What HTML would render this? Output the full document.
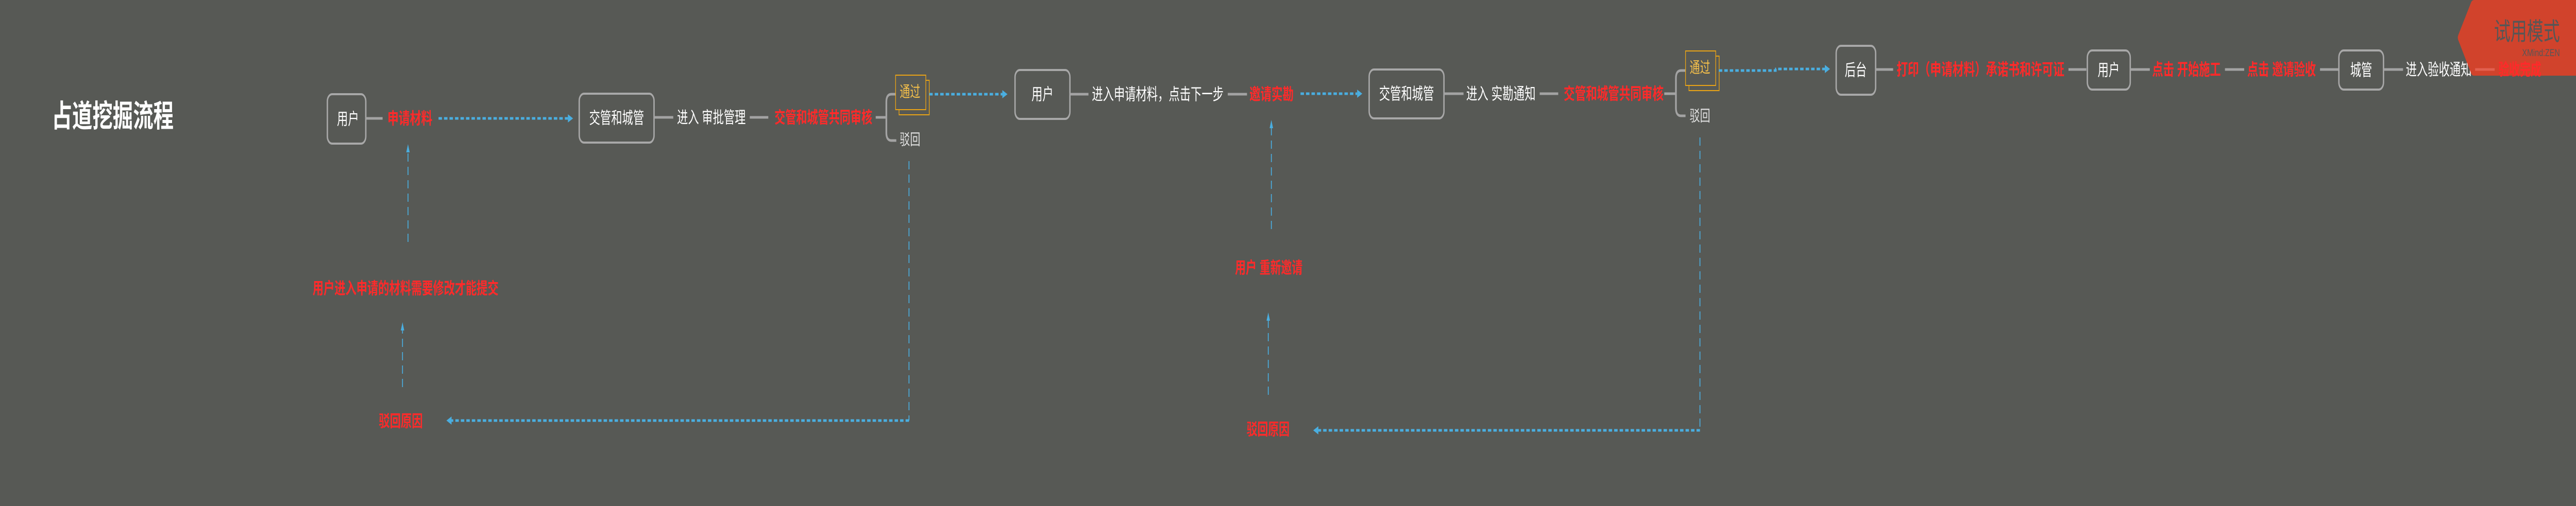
<!DOCTYPE html>
<html><head><meta charset="utf-8"><style>
html,body{margin:0;padding:0;background:#575955;width:100%;height:100%;overflow:hidden;}
svg{display:block;width:100vw;height:100vh;}
text{font-family:"Liberation Sans","Noto Sans CJK SC",sans-serif;dominant-baseline:central;}
.w{fill:#ffffff;font-size:32px;}
.r{fill:#ff2a2a;font-size:32px;font-weight:bold;}
.g{stroke:#a3a3a3;stroke-width:5;fill:none;}
.box{fill:none;stroke:#a8a8a8;stroke-width:4;}
.bd{stroke:#4aaee0;stroke-width:5;stroke-dasharray:10 6;fill:none;}
.bt{stroke:#4aaee0;stroke-width:2.5;stroke-dasharray:16 10;fill:none;}
.ah{fill:#4aaee0;}
.ob{fill:none;stroke:#e8a317;stroke-width:2;}
.ot{fill:#f5c04a;font-size:30px;}
.rj{fill:#e0e0e0;font-size:30px;}
</style></head><body>
<svg viewBox="0 0 7507 983" preserveAspectRatio="none" xmlns="http://www.w3.org/2000/svg">
<rect width="7507" height="983" fill="#575955"/>
<text x="151" y="226" fill="#fff" font-size="60" font-weight="bold" textLength="355" lengthAdjust="spacingAndGlyphs">占道挖掘流程</text>

<!-- row 1 -->
<rect class="box" x="954" y="183" width="112" height="96" rx="14"/>
<text class="w" x="982" y="231">用户</text>
<line class="g" x1="1066" y1="230" x2="1115" y2="230"/>
<text class="r" x="1129" y="230" textLength="131" lengthAdjust="spacingAndGlyphs">申请材料</text>
<line class="bd" x1="1278" y1="230" x2="1655" y2="230"/>
<polygon class="ah" points="1655,222 1670,230 1655,238"/>
<rect class="box" x="1688" y="182" width="218" height="95" rx="14"/>
<text class="w" x="1717" y="229" textLength="160" lengthAdjust="spacingAndGlyphs">交管和城管</text>
<line class="g" x1="1906" y1="228" x2="1962" y2="228"/>
<text class="w" x="1973" y="228" textLength="200" lengthAdjust="spacingAndGlyphs">进入 审批管理</text>
<line class="g" x1="2185" y1="228" x2="2239" y2="228"/>
<text class="r" x="2257" y="228" textLength="285" lengthAdjust="spacingAndGlyphs">交管和城管共同审核</text>
<line class="g" x1="2552" y1="228" x2="2583" y2="228"/>
<path class="g" d="M2612,183 H2598 Q2583,183 2583,198 V258 Q2583,273 2598,273 H2612"/>
<rect class="ob" x="2620" y="156" width="88" height="67"/>
<rect x="2610" y="146" width="88" height="67" fill="#575955" stroke="#e8a317" stroke-width="2"/>
<text class="ot" x="2622" y="179">通过</text>
<text class="rj" x="2622" y="272">驳回</text>

<!-- return loop 1 -->
<line class="bt" x1="2649" y1="313" x2="2649" y2="817"/>
<line class="bd" x1="2649" y1="817" x2="1316" y2="817"/>
<polygon class="ah" points="1316,809 1301,817 1316,825"/>
<text class="r" x="1104" y="818" textLength="128" lengthAdjust="spacingAndGlyphs">驳回原因</text>
<line class="bt" x1="1173" y1="752" x2="1173" y2="640"/>
<polygon class="ah" points="1168,642 1173,626 1178,642"/>
<text class="r" x="911" y="560" textLength="542" lengthAdjust="spacingAndGlyphs">用户进入申请的材料需要修改才能提交</text>
<line class="bt" x1="1189" y1="470" x2="1189" y2="294"/>
<polygon class="ah" points="1184,296 1189,280 1194,296"/>

<!-- row 2 -->
<line class="bd" x1="2708" y1="183" x2="2921" y2="183"/>
<polygon class="ah" points="2921,175 2936,183 2921,191"/>
<rect class="box" x="2958" y="136" width="160" height="95" rx="14"/>
<text class="w" x="3006" y="183">用户</text>
<line class="g" x1="3118" y1="183" x2="3172" y2="183"/>
<text class="w" x="3182" y="183" textLength="384" lengthAdjust="spacingAndGlyphs">进入申请材料，点击下一步</text>
<line class="g" x1="3578" y1="183" x2="3634" y2="183"/>
<text class="r" x="3641" y="183" textLength="129" lengthAdjust="spacingAndGlyphs">邀请实勘</text>
<line class="bd" x1="3790" y1="182" x2="3955" y2="182"/>
<polygon class="ah" points="3955,174 3970,182 3955,190"/>
<line class="bt" x1="3705" y1="445" x2="3705" y2="247"/>
<polygon class="ah" points="3700,249 3705,233 3710,249"/>
<rect class="box" x="3990" y="135" width="218" height="95" rx="14"/>
<text class="w" x="4019" y="182" textLength="160" lengthAdjust="spacingAndGlyphs">交管和城管</text>
<line class="g" x1="4208" y1="182" x2="4265" y2="182"/>
<text class="w" x="4273" y="182" textLength="202" lengthAdjust="spacingAndGlyphs">进入 实勘通知</text>
<line class="g" x1="4487" y1="182" x2="4541" y2="182"/>
<text class="r" x="4557" y="182" textLength="291" lengthAdjust="spacingAndGlyphs">交管和城管共同审核</text>
<line class="g" x1="4850" y1="182" x2="4884" y2="182"/>
<path class="g" d="M4912,137 H4899 Q4884,137 4884,152 V210 Q4884,225 4899,225 H4912"/>
<rect class="ob" x="4922" y="109" width="88" height="67"/>
<rect x="4912" y="99" width="88" height="67" fill="#575955" stroke="#e8a317" stroke-width="2"/>
<text class="ot" x="4924" y="132">通过</text>
<text class="rj" x="4924" y="226">驳回</text>

<!-- return loop 2 -->
<line class="bt" x1="4954" y1="267" x2="4954" y2="836"/>
<line class="bd" x1="4954" y1="836" x2="3842" y2="836"/>
<polygon class="ah" points="3842,828 3827,836 3842,844"/>
<text class="r" x="3633" y="834" textLength="125" lengthAdjust="spacingAndGlyphs">驳回原因</text>
<line class="bt" x1="3696" y1="767" x2="3696" y2="621"/>
<polygon class="ah" points="3691,623 3696,607 3701,623"/>
<text class="r" x="3599" y="520" textLength="197" lengthAdjust="spacingAndGlyphs">用户 重新邀请</text>

<!-- row 3 -->
<path class="bd" d="M5009,137 H5175 V134 H5318"/>
<polygon class="ah" points="5318,126 5333,134 5318,142"/>
<rect class="box" x="5351" y="89" width="115" height="95" rx="14"/>
<text class="w" x="5376" y="136">后台</text>
<line class="g" x1="5466" y1="135" x2="5517" y2="135"/>
<text class="r" x="5527" y="135" textLength="489" lengthAdjust="spacingAndGlyphs">打印（申请材料）承诺书和许可证</text>
<line class="g" x1="6028" y1="135" x2="6080" y2="135"/>
<rect class="box" x="6083" y="98" width="125" height="76" rx="14"/>
<text class="w" x="6113" y="136">用户</text>
<line class="g" x1="6208" y1="135" x2="6265" y2="135"/>
<text class="r" x="6272" y="135" textLength="200" lengthAdjust="spacingAndGlyphs">点击 开始施工</text>
<line class="g" x1="6484" y1="135" x2="6540" y2="135"/>
<text class="r" x="6549" y="135" textLength="200" lengthAdjust="spacingAndGlyphs">点击 邀请验收</text>
<line class="g" x1="6761" y1="135" x2="6816" y2="135"/>
<rect class="box" x="6816" y="98" width="130" height="76" rx="14"/>
<text class="w" x="6849" y="136">城管</text>
<line class="g" x1="6946" y1="135" x2="7003" y2="135"/>
<text class="w" x="7011" y="135" textLength="192" lengthAdjust="spacingAndGlyphs">进入验收通知</text>

<!-- watermark -->
<path d="M7210,0 H7507 V147 H7210 Q7204,147 7201,142 L7164,78 Q7161,73 7164,68 L7201,5 Q7204,0 7210,0 Z" fill="#d1432c"/>
<line x1="7213" y1="135" x2="7270" y2="135" stroke="#e2604f" stroke-width="5"/>
<text x="7281" y="135" fill="#ff2a2a" font-size="32" font-weight="bold" textLength="125" lengthAdjust="spacingAndGlyphs">验收完成</text>
<text x="7268" y="61" fill="#565656" font-size="48" textLength="192" lengthAdjust="spacingAndGlyphs">试用模式</text>
<text x="7350" y="103" fill="#565656" font-size="19" textLength="110" lengthAdjust="spacingAndGlyphs">XMind:ZEN</text>
</svg>
</body></html>
